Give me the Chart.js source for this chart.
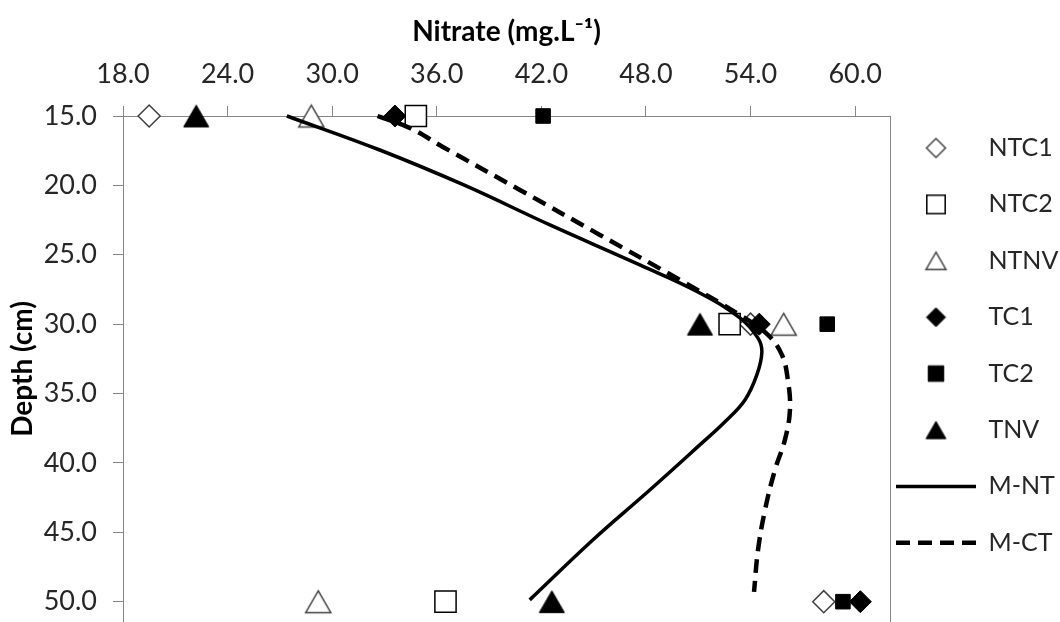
<!DOCTYPE html>
<html>
<head>
<meta charset="utf-8">
<script src="https://cdn.jsdelivr.net/npm/chart.js@4.4.1/dist/chart.umd.min.js"></script>
<style>
html,body{margin:0;padding:0;background:#fff;overflow:hidden}
#wrap{width:1060px;height:622px;position:relative;overflow:hidden}
canvas{display:block}
</style>
</head>
<body>
<div id="wrap"><canvas id="c" width="1060" height="654"></canvas></div>
<script>
// ---------- data ----------
const depths = [15, 30, 50];
const NTC1 = [19.5, 54.0, 58.2];
const NTC2 = [34.8, 52.8, 36.5];
const NTNV = [28.8, 55.9, 29.2];
const TC1  = [33.6, 54.5, 60.3];
const TC2  = [42.1, 58.4, 59.3];
const TNV  = [22.2, 51.1, 42.6];

const mntDepth   = [15.0, 17.45, 19.97, 22.85, 25.73, 27.75, 29.55, 30.99, 32.0, 33.66, 35.46, 37.05, 38.7, 41.95, 45.55, 49.87];
const mntNitrate = [27.4, 32.73, 37.55, 42.49, 47.65, 51.09, 53.39, 54.42, 54.65, 54.36, 53.68, 52.52, 51.09, 48.22, 44.95, 41.33];
const mctDepth   = [15.0, 15.86, 17.23, 20.33, 23.57, 26.82, 29.34, 30.78, 32.22, 34.02, 36.18, 38.34, 40.5, 43.39, 46.27, 49.29];
const mctNitrate = [32.6, 34.45, 36.35, 40.77, 45.36, 49.95, 53.39, 55.0, 55.8, 56.14, 56.26, 55.97, 55.4, 54.83, 54.43, 54.2];

const markerNames = ['NTC1', 'NTC2', 'NTNV', 'TC1', 'TC2', 'TNV'];
const markerValues = [NTC1, NTC2, NTNV, TC1, TC2, TNV];
const curveNames = ['M-NT', 'M-CT'];

const xTicks = [18, 24, 30, 36, 42, 48, 54, 60];
const yTicks = [15, 20, 25, 30, 35, 40, 45, 50];

// ---------- styles ----------
const FONT = 'Lato, "Open Sans", "Liberation Sans", sans-serif';
const AXIS_GRAY = '#868686';
const TEXT = '#262626';
const markerStyles = [
  {shape: 'rectRot',  fill: '#ffffff', stroke: '#404040', bw: 1.5, r: 11,   lr: 9.5},
  {shape: 'rect',     fill: '#ffffff', stroke: '#000000', bw: 1.5, r: 15,   lr: 13},
  {shape: 'triangle', fill: '#ffffff', stroke: '#404040', bw: 1.5, r: 14.5, lr: 11.5},
  {shape: 'rectRot',  fill: '#000000', stroke: '#000000', bw: 1,   r: 11,   lr: 9.5},
  {shape: 'rect',     fill: '#000000', stroke: '#000000', bw: 1,   r: 10.3, lr: 11},
  {shape: 'triangle', fill: '#000000', stroke: '#000000', bw: 1,   r: 14.5, lr: 11.5}
];
const curveStyles = [
  {width: 3.5, dash: []},
  {width: 4.5, dash: [14, 8]}
];

// icon built with Chart.js' own point renderer (triangles centred on their box)
function makeIcon(st, radius) {
  const size = Math.ceil(radius * 2 + 6);
  const cv = document.createElement('canvas');
  cv.width = size; cv.height = size;
  const ctx = cv.getContext('2d');
  ctx.fillStyle = st.fill; ctx.strokeStyle = st.stroke; ctx.lineWidth = st.bw;
  const dy = st.shape === 'triangle' ? radius / 4 : 0;
  Chart.helpers.drawPoint(ctx, {pointStyle: st.shape, radius: radius, borderWidth: st.bw, rotation: 0}, size / 2, size / 2 + dy);
  return cv;
}

const datasets = [];
markerNames.forEach((name, i) => {
  const st = markerStyles[i];
  const ps = st.shape === 'triangle' ? makeIcon(st, st.r) : st.shape;
  datasets.push({
    label: name,
    data: depths.map((d, k) => ({x: markerValues[i][k], y: d})),
    pointStyle: ps,
    pointRadius: st.r,
    pointHoverRadius: st.r,
    backgroundColor: st.fill,
    borderColor: st.stroke,
    pointBorderWidth: st.bw,
    showLine: false,
    clip: false,
    order: 20 - i
  });
});
[[mntNitrate, mntDepth], [mctNitrate, mctDepth]].forEach((pair, j) => {
  datasets.push({
    label: curveNames[j],
    data: pair[1].map((d, k) => ({x: pair[0][k], y: d})),
    showLine: true,
    pointRadius: 0,
    pointHoverRadius: 0,
    borderColor: '#000000',
    backgroundColor: '#000000',
    borderWidth: curveStyles[j].width,
    borderDash: curveStyles[j].dash,
    borderCapStyle: 'butt',
    tension: 0.4,
    fill: false,
    clip: false,
    order: 10 - j
  });
});

const legendItems = [];
markerNames.forEach((name, i) => {
  const st = markerStyles[i];
  legendItems.push({text: name, pointStyle: makeIcon(st, st.lr), fillStyle: st.fill, strokeStyle: st.stroke, lineWidth: st.bw, datasetIndex: i, fontColor: TEXT});
});
curveNames.forEach((name, j) => {
  legendItems.push({text: name, pointStyle: 'line', fillStyle: '#000', strokeStyle: '#000', lineWidth: curveStyles[j].width, lineDash: curveStyles[j].dash, lineCap: 'butt', datasetIndex: 6 + j, fontColor: TEXT});
});

const LEGEND_X = 896;   // left of first legend symbol box
const LEGEND_Y = 135.5; // top of first legend row
const legendPlacer = {
  id: 'legendPlacer',
  afterLayout(chart) {
    const lg = chart.legend;
    if (!lg) return;
    const pad = lg.options.labels.padding;
    lg.left = LEGEND_X - pad; lg.right = chart.width;
    lg.width = lg.right - lg.left;
    lg.top = LEGEND_Y - pad; lg.bottom = chart.height;
    lg.height = lg.bottom - lg.top;
  }
};

new Chart(document.getElementById('c'), {
  type: 'scatter',
  data: {datasets: datasets},
  plugins: [legendPlacer],
  options: {
    responsive: false,
    animation: false,
    devicePixelRatio: 1,
    layout: {padding: 0},
    plugins: {
      tooltip: {enabled: false},
      legend: {
        display: true,
        position: 'right',
        align: 'start',
        maxWidth: 170,
        labels: {
          usePointStyle: true,
          pointStyleWidth: 80,
          boxHeight: 12,
          padding: 31.4,
          color: TEXT,
          font: {family: FONT, size: 25},
          generateLabels: () => legendItems
        }
      }
    },
    scales: {
      x: {
        type: 'linear',
        position: 'top',
        min: 18,
        max: 62,
        afterBuildTicks: s => { s.ticks = xTicks.map(v => ({value: v})); },
        afterFit: s => { s.height = 116; },
        ticks: {callback: v => Number(v).toFixed(1), color: TEXT, font: {family: FONT, size: 27}, padding: 16, maxRotation: 0, autoSkip: false},
        grid: {display: true, drawOnChartArea: false, drawTicks: true, tickLength: 10, color: AXIS_GRAY, lineWidth: 1},
        border: {display: true, color: AXIS_GRAY, width: 1},
        title: {display: true, text: 'Nitrate (mg.L⁻¹)', color: '#000', font: {family: FONT, size: 28, weight: 'bold'}, padding: {top: 15, bottom: 0}}
      },
      y: {
        type: 'linear',
        position: 'left',
        reverse: true,
        min: 15,
        max: 51.45,
        afterBuildTicks: s => { s.ticks = yTicks.map(v => ({value: v})); },
        afterFit: s => { s.width = 123; },
        ticks: {callback: v => Number(v).toFixed(1), color: TEXT, font: {family: FONT, size: 27}, padding: 16, autoSkip: false},
        grid: {display: true, drawOnChartArea: false, drawTicks: true, tickLength: 10, color: AXIS_GRAY, lineWidth: 1},
        border: {display: true, color: AXIS_GRAY, width: 1},
        title: {display: true, text: 'Depth (cm)', color: '#000', font: {family: FONT, size: 28, weight: 'bold'}, padding: {top: 6, bottom: 0}}
      },
      y2: {
        type: 'linear',
        position: 'right',
        display: true,
        afterFit: s => { s.width = 0; },
        ticks: {display: false},
        grid: {display: false, drawTicks: false},
        border: {display: true, color: AXIS_GRAY, width: 1}
      }
    }
  }
});
</script>
</body>
</html>
